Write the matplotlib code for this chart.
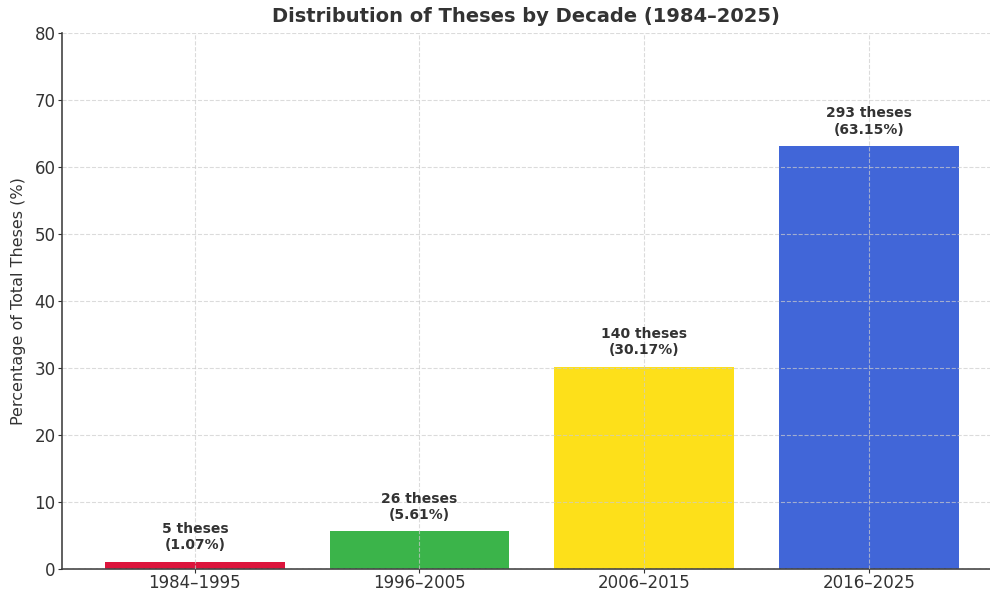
import matplotlib.pyplot as plt

decades = ['1984–1995', '1996–2005', '2006–2015', '2016–2025']
counts = [5, 26, 140, 293]
percents = [1.07, 5.61, 30.17, 63.15]
colors = ['#DC143C', '#3BB44A', '#FDE01A', '#4166D8']

plt.rcParams['font.family'] = 'DejaVu Sans'
text_col = '#333333'

fig = plt.figure(figsize=(9.9, 5.92), dpi=100)
ax = fig.add_axes([0.063, 0.039, 0.937, 0.905])

x = range(len(decades))
ax.bar(x, percents, width=0.8, color=colors, zorder=1)

for i, (n, p) in enumerate(zip(counts, percents)):
    ax.text(i, p + 1.4, f'{n} theses\n({p:.2f}%)', ha='center', va='bottom',
            fontsize=10, fontweight='bold', color=text_col, zorder=3)

ax.set_xticks(list(x))
ax.set_xticklabels(decades, fontsize=12, color=text_col)
ax.set_xlim(-0.59, 3.54)
ax.set_ylim(0, 80)
ax.tick_params(axis='y', labelsize=12, labelcolor=text_col, color=text_col,
               length=3, pad=2)
ax.tick_params(axis='x', color=text_col, length=3, pad=1)
ax.set_ylabel('Percentage of Total Theses (%)', fontsize=11.5, color=text_col,
              labelpad=6)
ax.set_title('Distribution of Theses by Decade (1984–2025)', fontsize=14,
             fontweight='bold', color=text_col, pad=8)

ax.grid(True, linestyle='--', color='#cccccc', alpha=0.7, linewidth=0.8, zorder=2)
ax.set_axisbelow(False)
for s in ['top', 'right']:
    ax.spines[s].set_visible(False)
for s in ['left', 'bottom']:
    ax.spines[s].set_color('#444444')
    ax.spines[s].set_linewidth(1.2)

fig.savefig('out.png', dpi=100)
